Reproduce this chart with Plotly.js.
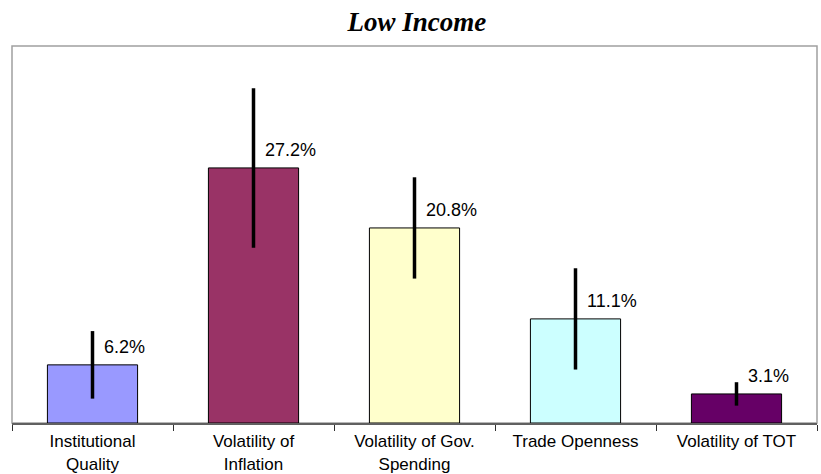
<!DOCTYPE html>
<html>
<head>
<meta charset="utf-8">
<script src="https://cdn.plot.ly/plotly-3.0.1.min.js"></script>
<style>html,body{margin:0;padding:0;background:#fff;}#chart{width:821px;height:474px;}</style>
</head>
<body>
<div id="chart"></div>
<script>
const categories = ["Institutional<br>Quality", "Volatility of<br>Inflation", "Volatility of Gov.<br>Spending", "Trade Openness", "Volatility of TOT"];
const values = [6.2, 27.2, 20.8, 11.1, 3.1];
const errors = [3.6, 8.5, 5.4, 5.4, 1.25];
const labels = ["6.2%", "27.2%", "20.8%", "11.1%", "3.1%"];
const colors = ["#9999FF", "#993366", "#FFFFCC", "#CCFFFF", "#660066"];

const font = "Liberation Sans, Arial, sans-serif";

const trace = {
  type: "bar",
  x: categories,
  y: values,
  width: 0.56,
  marker: {color: colors, line: {color: "#000000", width: 1}},
  error_y: {type: "data", array: errors, symmetric: true, color: "#000000", thickness: 3.5, width: 0},
  hoverinfo: "none"
};

const annotations = categories.map((c, i) => ({
  x: c, y: values[i], xref: "x", yref: "y",
  text: labels[i], showarrow: false,
  xanchor: "left", yanchor: "middle",
  xshift: 9, yshift: 18,
  font: {family: font, size: 18, color: "#000"}
}));

const layout = {
  width: 821, height: 474,
  margin: {l: 12, r: 4, t: 46, b: 51},
  paper_bgcolor: "#ffffff", plot_bgcolor: "#ffffff",
  showlegend: false,
  title: {
    text: "<b><i>Low Income</i></b>",
    font: {family: "Liberation Serif, Times New Roman, serif", size: 27, color: "#000"},
    x: 0.503, xanchor: "center", xref: "paper",
    y: 0.955, yanchor: "middle", yref: "container"
  },
  xaxis: {
    type: "category",
    range: [-0.5, 4.5],
    showline: true, linecolor: "#606060", linewidth: 2,
    ticks: "outside", tickson: "boundaries", ticklen: 6, tickcolor: "#303030", tickwidth: 1,
    ticklabelstandoff: 2,
    tickfont: {family: font, size: 17, color: "#000"},
    showgrid: false, zeroline: false, fixedrange: true,
    automargin: false
  },
  yaxis: {
    range: [0, 40.2],
    visible: false, showgrid: false, zeroline: false, fixedrange: true
  },
  shapes: [{
    type: "rect", xref: "paper", yref: "paper", x0: 0, x1: 1, y0: 0, y1: 1,
    line: {color: "#a0a0a0", width: 1.5}, layer: "below"
  }],
  annotations: annotations,
  bargap: 0.44
};

Plotly.newPlot("chart", [trace], layout, {displayModeBar: false, staticPlot: true});
</script>
</body>
</html>
